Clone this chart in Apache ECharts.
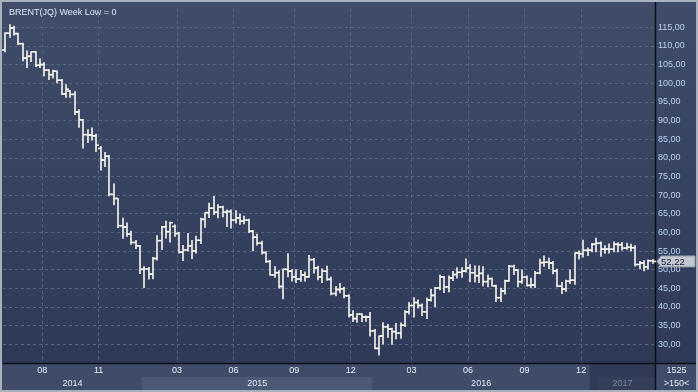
<!DOCTYPE html>
<html><head><meta charset="utf-8">
<script src="https://cdn.jsdelivr.net/npm/echarts@6/dist/echarts.min.js"></script>
<style>html,body{margin:0;padding:0;background:#2f3b57}#c{width:698px;height:392px}</style>
</head><body><div id="c"></div>
<script>
// ---- data (weekly OHLC) ----
const weeks = ['2014-06-09','2014-06-16','2014-06-23','2014-06-30','2014-07-07','2014-07-14','2014-07-21','2014-07-28','2014-08-04','2014-08-11',
'2014-08-18','2014-08-25','2014-09-01','2014-09-08','2014-09-15','2014-09-22','2014-09-29','2014-10-06','2014-10-13','2014-10-20',
'2014-10-27','2014-11-03','2014-11-10','2014-11-17','2014-11-24','2014-12-01','2014-12-08','2014-12-15','2014-12-22','2014-12-29',
'2015-01-02','2015-01-05','2015-01-12','2015-01-19','2015-01-26','2015-02-02','2015-02-09','2015-02-16','2015-02-23','2015-03-02',
'2015-03-09','2015-03-16','2015-03-23','2015-03-30','2015-04-06','2015-04-13','2015-04-20','2015-04-27','2015-05-04','2015-05-11',
'2015-05-18','2015-05-25','2015-06-01','2015-06-08','2015-06-15','2015-06-22','2015-06-29','2015-07-06','2015-07-13','2015-07-20',
'2015-07-27','2015-08-03','2015-08-10','2015-08-17','2015-08-24','2015-08-31','2015-09-07','2015-09-14','2015-09-21','2015-09-28',
'2015-10-05','2015-10-12','2015-10-19','2015-10-26','2015-11-02','2015-11-09','2015-11-16','2015-11-23','2015-11-30','2015-12-07',
'2015-12-14','2015-12-21','2015-12-28','2016-01-01','2016-01-04','2016-01-11','2016-01-18','2016-01-25','2016-02-01','2016-02-08',
'2016-02-15','2016-02-22','2016-02-29','2016-03-07','2016-03-14','2016-03-21','2016-03-28','2016-04-04','2016-04-11','2016-04-18',
'2016-04-25','2016-05-02','2016-05-09','2016-05-16','2016-05-23','2016-05-30','2016-06-06','2016-06-13','2016-06-20','2016-06-27',
'2016-07-04','2016-07-11','2016-07-18','2016-07-25','2016-08-01','2016-08-08','2016-08-15','2016-08-22','2016-08-29','2016-09-05',
'2016-09-12','2016-09-19','2016-09-26','2016-10-03','2016-10-10','2016-10-17','2016-10-24','2016-10-31','2016-11-07','2016-11-14',
'2016-11-21','2016-11-28','2016-12-05','2016-12-12','2016-12-19','2016-12-26','2017-01-02','2017-01-09','2017-01-16','2017-01-23',
'2017-01-30','2017-02-06','2017-02-13','2017-02-20','2017-02-27','2017-03-06','2017-03-13','2017-03-20','2017-03-27','2017-04-03'];

const openV = [108.9,113.4,114.8,113.3,110.6,106.7,107.2,108.4,104.8,105.0,
103.5,102.3,103.2,100.8,97.1,97.9,97.0,92.3,90.2,86.2,
86.1,85.9,82.5,79.4,80.4,70.2,69.1,61.8,61.4,59.5,
57.3,56.4,50.1,50.2,48.8,53.0,57.8,61.5,60.2,61.6,
59.7,54.7,55.3,56.4,55.0,57.9,63.5,65.3,66.5,65.4,
66.8,65.4,65.6,63.3,63.9,63.0,63.3,60.3,58.7,57.1,
54.6,52.2,48.6,49.2,45.5,50.1,49.6,48.1,47.5,48.6,
48.1,52.7,50.5,48.1,49.6,47.4,43.6,44.7,44.9,43.0,
37.9,36.9,38.1,37.3,37.3,33.6,28.9,32.2,34.7,34.1,
33.4,33.0,35.1,38.7,40.4,41.2,40.4,38.7,41.9,43.1,
45.1,48.1,45.4,47.8,48.7,49.3,49.6,50.5,49.2,48.4,
49.0,46.8,47.6,45.7,42.5,44.3,47.0,50.9,49.9,46.8,
48.0,45.8,45.9,49.1,51.9,52.0,51.8,49.7,45.6,44.8,
46.9,47.2,54.5,54.3,55.2,55.2,56.8,57.1,55.5,55.5,
55.5,56.8,56.7,55.8,56.0,55.9,51.4,51.8,50.8,52.4];

const highV = [113.5,115.7,115.3,113.4,110.7,108.6,108.4,108.4,106.5,105.5,
103.6,103.5,103.3,101.0,99.6,98.0,97.7,92.9,90.3,87.5,
88.0,86.3,83.0,81.4,80.6,73.0,69.1,63.8,62.5,60.3,
57.8,56.5,50.8,50.6,53.3,59.1,61.6,63.0,62.7,62.0,
60.0,56.5,59.7,57.8,59.0,63.8,65.3,67.8,69.6,67.4,
67.0,66.0,66.0,65.8,64.9,64.3,63.5,60.5,59.5,57.6,
54.8,52.5,50.8,49.7,50.2,54.3,50.0,50.0,49.8,49.4,
53.8,53.0,50.9,50.2,50.9,48.0,45.5,46.3,45.3,43.3,
39.0,38.2,38.2,37.6,38.5,34.0,32.2,35.8,35.3,34.3,
35.6,35.7,39.0,41.2,42.5,41.9,40.8,42.4,44.7,45.2,
48.5,48.2,48.3,49.5,50.5,50.5,52.9,51.3,51.0,51.0,
50.8,48.6,47.8,45.8,45.0,47.2,51.1,51.2,50.0,49.9,
48.3,47.7,49.5,52.8,53.7,53.1,52.2,50.1,46.6,47.2,
49.9,54.5,55.0,57.9,55.8,57.0,58.4,57.4,56.4,56.9,
57.4,57.2,57.3,57.1,56.8,56.4,52.2,52.4,52.6,52.7];

const lowV = [108.4,112.3,112.9,110.4,106.0,104.2,105.8,104.5,104.2,102.0,
101.0,101.4,100.1,97.0,96.2,96.2,91.6,88.2,82.6,84.1,
84.8,81.7,76.7,77.7,69.8,67.4,61.3,58.4,59.0,56.8,
55.7,49.0,45.2,47.5,47.6,52.6,55.4,58.5,57.4,59.0,
54.5,52.5,55.0,53.0,54.5,57.0,61.4,64.0,64.8,63.9,
64.2,61.6,61.2,62.5,62.2,62.3,60.0,55.1,56.6,54.2,
52.0,48.6,48.0,45.1,42.2,48.1,47.0,46.6,46.9,47.0,
48.0,49.1,47.3,46.6,47.2,43.3,43.0,43.8,42.5,37.3,
36.1,35.9,36.1,36.2,32.2,28.8,27.1,30.1,31.9,30.0,
31.5,31.6,34.8,38.1,37.3,39.7,37.7,36.9,41.6,40.1,
44.6,43.9,44.1,47.1,47.8,48.0,49.4,46.8,46.7,46.6,
45.7,45.4,45.6,41.5,41.5,43.5,46.9,48.7,45.4,46.4,
45.6,45.2,45.2,48.9,50.9,50.3,48.9,45.4,43.6,44.2,
46.3,46.1,52.9,53.4,53.8,54.8,54.8,53.6,54.4,54.5,
54.8,54.8,55.3,55.5,55.0,51.0,50.3,49.7,50.2,51.7];

const closeV = [113.4,114.8,113.3,110.6,106.7,107.2,108.4,104.8,105.0,103.5,
102.3,103.2,100.8,97.1,98.4,97.0,92.3,90.2,86.2,86.1,
85.9,83.4,79.4,80.4,70.2,69.1,61.8,61.4,59.5,57.3,
56.4,50.1,50.2,48.8,53.0,57.8,61.5,60.2,62.6,59.7,
54.7,55.3,56.4,55.0,57.9,63.5,65.3,66.5,65.4,66.8,
65.4,65.6,63.3,63.9,63.0,63.3,60.3,58.7,57.1,54.6,
52.2,48.6,49.2,45.5,50.1,49.6,48.1,47.5,48.6,48.1,
52.7,50.5,48.1,49.6,47.4,43.6,44.7,44.9,43.0,37.9,
36.9,38.1,37.3,37.3,33.6,28.9,32.2,34.7,34.1,33.4,
33.0,35.1,38.7,40.4,41.2,40.4,38.7,41.9,43.1,45.1,
48.1,45.4,47.8,48.7,49.3,49.6,50.5,49.2,48.4,49.0,
46.8,47.6,45.7,42.5,44.3,47.0,50.9,49.9,46.8,48.0,
45.8,45.9,49.1,51.9,52.0,51.8,49.7,45.6,44.8,46.9,
47.2,54.5,54.3,55.2,55.2,56.8,57.1,55.5,55.5,55.5,
56.8,56.7,55.8,56.0,55.9,51.4,51.8,50.8,52.4,52.22];

// month gridlines / labels (category where the line sits) and their text
const monthTicks  = ['2014-08-11','2014-11-10','2015-03-09','2015-06-08','2015-09-14','2015-12-14','2016-03-14','2016-06-13','2016-09-12','2016-12-12'];
const monthLabels = ['08','11','03','06','09','12','03','06','09','12'];
// year bands in the lower strip: label and first category
const yearLabels = ['2014','2015','2016','2017'];
const yearStarts = ['2014-06-09','2015-01-12','2016-01-11','2016-12-26'];
const lastPrice = 52.22;
const titleText = 'BRENT(JQ) Week Low = 0';
const cornerTexts = ['1525', '>150<'];

// ---- chart ----
const FONT = '"Liberation Sans", Arial, sans-serif';
const fmtNum = v => v.toFixed(2).replace('.', ',');
const chart = echarts.init(document.getElementById('c'), null, {renderer: 'canvas'});
const rows = weeks.map((w, i) => [w, openV[i], closeV[i], lowV[i], highV[i]]);
const dash = [3, 3];
const gridColor = '#56647f';

function renderOHLC(params, api) {
  const xi = api.value(0);
  const px = api.coord([xi, api.value(1)]);
  const x = Math.round(px[0]) ;
  const yO = api.coord([xi, api.value(1)])[1];
  const yC = api.coord([xi, api.value(2)])[1];
  const yL = api.coord([xi, api.value(3)])[1];
  const yH = api.coord([xi, api.value(4)])[1];
  const st = {stroke: '#fbf8f0', lineWidth: 1.6};
  const t = 3;
  return {type: 'group', children: [
    {type: 'line', shape: {x1: x, y1: yH - 0.5, x2: x, y2: yL + 0.5}, style: st},
    {type: 'line', shape: {x1: x - t, y1: yO, x2: x, y2: yO}, style: {stroke: '#fbf8f0', lineWidth: 1.5}},
    {type: 'line', shape: {x1: x, y1: yC, x2: x + t, y2: yC}, style: {stroke: '#fbf8f0', lineWidth: 1.5}}
  ]};
}

const option = {
  animation: false,
  backgroundColor: {type: 'linear', x: 0, y: 0, x2: 0, y2: 1, colorStops: [
    {offset: 0, color: '#3f4d6a'}, {offset: 1, color: '#2c3856'}]},
  title: {text: titleText, left: 4, top: 3, textStyle: {fontSize: 9, fontWeight: 'normal', color: '#dfe7f5', fontFamily: FONT}},
  grid: {left: 3, right: 43, top: 8.6, bottom: 29.05, outerBoundsMode: 'none'},
  xAxis: {
    type: 'category', data: weeks, boundaryGap: true, z: 10,
    axisLine: {show: false}, axisTick: {show: false},
    axisLabel: {
      interval: (i, v) => monthTicks.indexOf(v) >= 0,
      formatter: v => monthLabels[monthTicks.indexOf(v)],
      color: '#e8eef8', fontSize: 9, fontFamily: FONT, margin: 3, padding: [0, 4.3, 0, 0]
    },
    splitLine: {show: true, interval: (i, v) => monthTicks.indexOf(v) >= 0, lineStyle: {color: gridColor, type: dash, width: 1}}
  },
  yAxis: {
    type: 'value', position: 'right', min: 25, max: 120, interval: 5, z: 10,
    axisLine: {show: false}, axisTick: {show: false},
    axisLabel: {formatter: fmtNum, color: '#bcd1f2', fontSize: 9, fontFamily: FONT, margin: 3, showMinLabel: false, showMaxLabel: false},
    splitLine: {show: true, showMinLine: false, showMaxLine: false, lineStyle: {color: gridColor, type: dash, width: 1}}
  },
  series: [{type: 'custom', name: 'BRENT', z: 20, renderItem: renderOHLC, encode: {x: 0, y: [1, 2, 3, 4]}, data: rows}]
};
chart.setOption(option);

// ---- decorations positioned through the chart's own scales ----
const cx = c => chart.convertToPixel({xAxisIndex: 0}, c);
const cy = v => chart.convertToPixel({yAxisIndex: 0}, v);
const bw = cx(weeks[1]) - cx(weeks[0]);
const edge = c => cx(c) - bw / 2;
const gLeft = edge(weeks[0]);
const gRight = cx(weeks[weeks.length - 1]) + bw / 2;
const gBottom = cy(25);
const W = 698, H = 392;
const stripTop = gBottom, stripBot = gBottom + 27, rowMid = gBottom + 14;

const g = [];
g.push({type: 'rect', z: 1, shape: {x: 0, y: stripTop, width: W, height: stripBot - stripTop}, style: {fill: '#3f4c69'}});
yearLabels.forEach((lab, i) => {
  const x0 = i === 0 ? gLeft : edge(yearStarts[i]);
  const x1 = i < yearLabels.length - 1 ? edge(yearStarts[i + 1]) : gRight;
  const last = i === yearLabels.length - 1;
  if (last) {
    g.push({type: 'rect', z: 2, shape: {x: x0, y: stripTop, width: x1 - x0, height: stripBot - stripTop}, style: {fill: '#2e3a56'}});
    g.push({type: 'rect', z: 2, shape: {x: x0 + 8, y: rowMid, width: x1 - x0 - 8, height: stripBot - rowMid}, style: {fill: '#323e5a'}});
  } else if (i % 2 === 1) {
    g.push({type: 'rect', z: 2, shape: {x: x0, y: rowMid, width: x1 - x0, height: stripBot - rowMid}, style: {fill: '#4b5977'}});
  }
  g.push({type: 'text', z: 12, x: (x0 + x1) / 2, y: rowMid + 6.5, style: {text: lab, fill: last ? '#7c8699' : '#e4eaf5', fontSize: 9, fontFamily: FONT, align: 'center', verticalAlign: 'middle'}});
});
// axis lines (black)
g.push({type: 'line', z: 15, shape: {x1: gRight + 0.5, y1: 0, x2: gRight + 0.5, y2: stripBot}, style: {stroke: '#0c0f16', lineWidth: 1.5}});
g.push({type: 'line', z: 15, shape: {x1: gLeft, y1: gBottom + 0.5, x2: W, y2: gBottom + 0.5}, style: {stroke: '#0c0f16', lineWidth: 1.5}});
// corner box texts
g.push({type: 'text', z: 12, x: (gRight + W) / 2, y: stripTop + 8, style: {text: cornerTexts[0], fill: '#e4eaf5', fontSize: 9, fontFamily: FONT, align: 'center', verticalAlign: 'middle'}});
g.push({type: 'text', z: 12, x: (gRight + W) / 2, y: rowMid + 6.5, style: {text: cornerTexts[1], fill: '#e4eaf5', fontSize: 9, fontFamily: FONT, align: 'center', verticalAlign: 'middle'}});
// last price tag
const py = cy(lastPrice);
g.push({type: 'polygon', z: 16, shape: {points: [[gRight + 2, py], [gRight + 6, py - 5.5], [W - 3, py - 5.5], [W - 3, py + 5.5], [gRight + 6, py + 5.5]]}, style: {fill: '#c3c8d0', stroke: '#8f97a3', lineWidth: 1}});
g.push({type: 'text', z: 17, x: gRight + 6, y: py + 0.5, style: {text: fmtNum(lastPrice), fill: '#142038', fontSize: 9.5, fontFamily: FONT, align: 'left', verticalAlign: 'middle'}});
// outer frame
g.push({type: 'rect', z: 30, shape: {x: 1, y: 1, width: W - 2, height: H - 2}, style: {fill: 'none', stroke: '#a8b0bc', lineWidth: 2}});
chart.setOption({graphic: {elements: g}});
</script>
</body></html>
